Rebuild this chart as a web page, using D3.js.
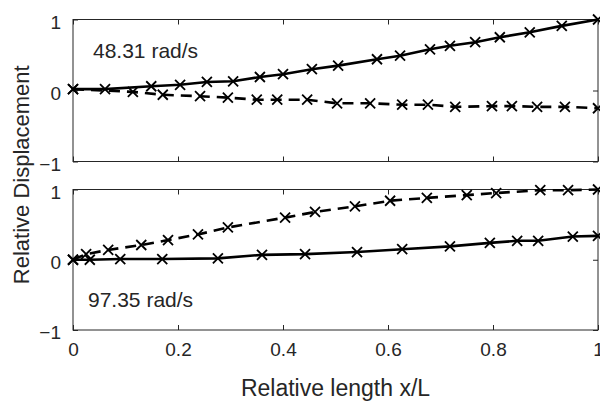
<!DOCTYPE html>
<html>
<head>
<meta charset="utf-8">
<title>mode shapes</title>
<script src="https://d3js.org/d3.v7.min.js"></script>
<style>
  body { margin: 0; background: #fff; }
  svg { display: block; font-family: "Liberation Sans", Arial, sans-serif; }
  .axis text { fill: #262626; font-size: 19px; }
  .axis path { display: none; }
  .axis line { stroke: #262626; }
</style>
</head>
<body>
<div id="chart"></div>
<script>
// mode 1 (48.31 rad/s)
var top1X = [0, 0.061, 0.149, 0.204, 0.255, 0.305, 0.356, 0.4, 0.455, 0.505, 0.579, 0.623, 0.68, 0.718, 0.766, 0.813, 0.87, 0.931, 1];
var top1Y = [0.02, 0.02, 0.06, 0.08, 0.12, 0.13, 0.19, 0.23, 0.30, 0.35, 0.44, 0.49, 0.58, 0.63, 0.68, 0.75, 0.82, 0.91, 1.0];
var top2X = [0, 0.114, 0.171, 0.242, 0.295, 0.35, 0.389, 0.446, 0.503, 0.566, 0.627, 0.676, 0.728, 0.798, 0.836, 0.884, 0.937, 1];
var top2Y = [0.02, -0.02, -0.06, -0.08, -0.1, -0.13, -0.13, -0.13, -0.18, -0.18, -0.2, -0.2, -0.23, -0.22, -0.22, -0.23, -0.23, -0.25];
// mode 2 (97.35 rad/s)
var bot1X = [0, 0.032, 0.09, 0.17, 0.276, 0.36, 0.442, 0.541, 0.627, 0.718, 0.794, 0.846, 0.886, 0.952, 1];
var bot1Y = [0, 0, 0.01, 0.01, 0.02, 0.07, 0.08, 0.11, 0.15, 0.19, 0.24, 0.27, 0.27, 0.33, 0.34];
var bot2X = [0, 0.025, 0.067, 0.13, 0.181, 0.238, 0.295, 0.404, 0.461, 0.537, 0.604, 0.674, 0.75, 0.806, 0.89, 0.943, 1];
var bot2Y = [0, 0.08, 0.14, 0.21, 0.28, 0.36, 0.46, 0.6, 0.68, 0.76, 0.84, 0.88, 0.92, 0.95, 0.99, 0.99, 1.0];

var xTicks = [0, 0.2, 0.4, 0.6, 0.8, 1];
var yTicks = [-1, 0, 1];
var labels = ["48.31 rad/s", "97.35 rad/s"];

var width = 600, height = 402;
var svg = d3.select("#chart").append("svg").attr("width", width).attr("height", height);

var x = d3.scaleLinear().domain([0, 1]).range([73, 598]);
var panels = [
  { top: 19.5, bottom: 161.5, s1: [top1X, top1Y], s2: [top2X, top2Y], label: labels[0], lx: 93, ly: 58, xlab: false },
  { top: 189.5, bottom: 330, s1: [bot1X, bot1Y], s2: [bot2X, bot2Y], label: labels[1], lx: 88, ly: 307, xlab: true }
];

function zip(xs, ys) { return xs.map(function(v, i) { return [v, ys[i]]; }); }

panels.forEach(function(p) {
  var y = d3.scaleLinear().domain([-1, 1]).range([p.bottom, p.top]);
  var g = svg.append("g");

  // ticks (inward)
  var bx = g.append("g").attr("class", "axis").attr("transform", "translate(0," + p.bottom + ")")
    .call(d3.axisBottom(x).tickValues(xTicks).tickSizeInner(-5).tickSizeOuter(0).tickPadding(13)
      .tickFormat(p.xlab ? d3.format("") : ""));
  bx.selectAll("text").attr("dy", "0.71em");
  g.append("g").attr("class", "axis").attr("transform", "translate(0," + p.top + ")")
    .call(d3.axisTop(x).tickValues(xTicks).tickSizeInner(-5).tickSizeOuter(0).tickFormat(""));
  var ly = g.append("g").attr("class", "axis").attr("transform", "translate(73,0)")
    .call(d3.axisLeft(y).tickValues(yTicks).tickSizeInner(-5).tickSizeOuter(0).tickPadding(12).tickFormat(d3.format("")));
  ly.selectAll("text").attr("dy", "0.45em");
  g.append("g").attr("class", "axis").attr("transform", "translate(598,0)")
    .call(d3.axisRight(y).tickValues(yTicks).tickSizeInner(-5).tickSizeOuter(0).tickFormat(""));

  g.append("rect")
    .attr("x", x(0)).attr("y", p.top)
    .attr("width", x(1) - x(0)).attr("height", p.bottom - p.top)
    .attr("fill", "none").attr("stroke", "#262626").attr("stroke-width", 1);

  var line = d3.line().x(function(d) { return x(d[0]); }).y(function(d) { return y(d[1]); });

  [[p.s1, null], [p.s2, "11,7"]].forEach(function(s) {
    var pts = zip(s[0][0], s[0][1]);
    g.append("path").datum(pts)
      .attr("d", line)
      .attr("fill", "none").attr("stroke", "#000").attr("stroke-width", 2.6)
      .attr("stroke-dasharray", s[1]);
    g.selectAll(null).data(pts).enter().append("path")
      .attr("transform", function(d) { return "translate(" + x(d[0]) + "," + y(d[1]) + ")"; })
      .attr("d", "M-5,-5L5,5M-5,5L5,-5")
      .attr("stroke", "#000").attr("stroke-width", 1.8).attr("fill", "none");
  });

  g.append("text").attr("x", p.lx).attr("y", p.ly)
    .attr("fill", "#262626").style("font-size", "21px").text(p.label);
});

svg.append("text")
  .attr("x", (x(0) + x(1)) / 2).attr("y", 396)
  .attr("text-anchor", "middle").attr("fill", "#262626").style("font-size", "23px")
  .text("Relative length x/L");

svg.append("text")
  .attr("transform", "translate(29," + (19.5 + 330) / 2 + ") rotate(-90)")
  .attr("text-anchor", "middle").attr("fill", "#262626").style("font-size", "22px")
  .text("Relative Displacement");
</script>
</body>
</html>
